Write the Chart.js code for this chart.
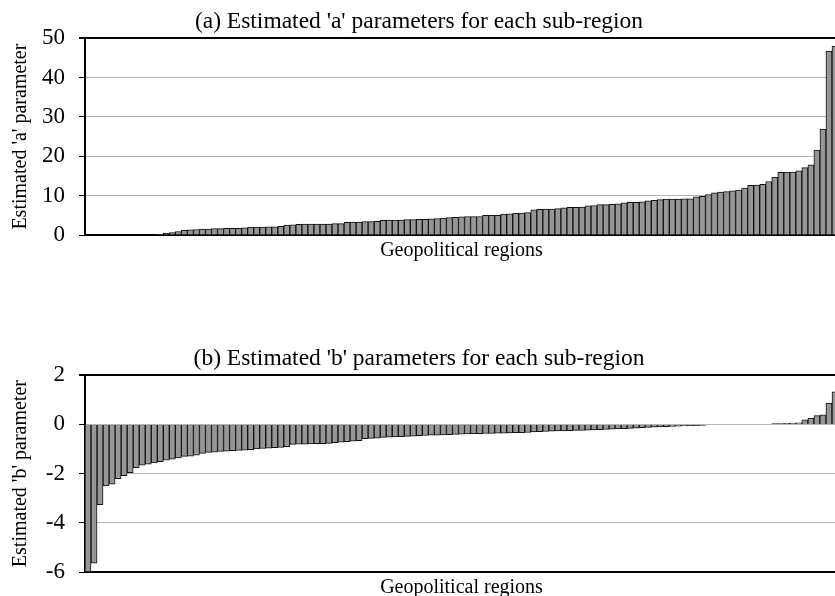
<!DOCTYPE html>
<html>
<head>
<meta charset="utf-8">
<script src="https://cdn.jsdelivr.net/npm/chart.js@4/dist/chart.umd.min.js"></script>
<style>
  html, body { margin: 0; padding: 0; background: #fff; overflow: hidden; width: 835px; height: 596px; }
  .panel { position: absolute; left: 0; width: 840px; height: 267px; }
  #panelA { top: 0; }
  #panelB { top: 337px; }
</style>
</head>
<body>
<div class="panel" id="panelA"><canvas id="chartA" width="840" height="267"></canvas></div>
<div class="panel" id="panelB"><canvas id="chartB" width="840" height="267"></canvas></div>
<script>
// sub-regions, sorted by estimate (125 of them, unlabeled on the axis)
const regionCount = 125;
const regions = Array.from({ length: regionCount }, (_, i) => "R" + (i + 1));

// estimated 'a' values
const aValues = [
  0, 0, 0, 0, 0, 0, 0, 0, 0, 0, 0, 0,
  0.2, 0.4, 0.6, 0.9, 1.2, 1.3, 1.4, 1.5, 1.5, 1.6, 1.6, 1.7, 1.7, 1.7, 1.8,
  2.0, 2.0, 2.0, 2.1, 2.1, 2.2, 2.5, 2.6, 2.7, 2.8, 2.8, 2.8, 2.8, 2.8, 2.9, 2.9,
  3.2, 3.3, 3.3, 3.4, 3.4, 3.5, 3.7, 3.8, 3.8, 3.8, 3.9, 3.9, 4.0, 4.0, 4.1, 4.2, 4.3, 4.4, 4.5,
  4.6, 4.7, 4.7, 4.7, 5.0, 5.0, 5.0, 5.3, 5.4, 5.5, 5.6, 5.7, 6.4, 6.5, 6.6, 6.6, 6.7,
  6.9, 7.0, 7.0, 7.1, 7.4, 7.5, 7.7, 7.7, 7.8, 7.9, 8.2, 8.3, 8.3, 8.4, 8.7, 8.8,
  9.0, 9.1, 9.1, 9.1, 9.2, 9.2, 9.7, 9.8, 10.3, 10.7, 10.9, 11.0, 11.2, 11.4, 11.9,
  12.6, 12.7, 12.9, 13.6, 14.7, 15.9, 16.0, 16.0, 16.3, 17.1, 17.8, 21.6, 26.9, 46.7, 48.0
];

// estimated 'b' values
const bValues = [
  -6.0, -5.64, -3.26, -2.5, -2.43, -2.21, -2.08, -1.96, -1.76, -1.66, -1.62, -1.57, -1.52,
  -1.45, -1.41, -1.36, -1.3, -1.29, -1.25, -1.18, -1.14, -1.13, -1.1, -1.09, -1.07, -1.06,
  -1.05, -1.03, -1.0, -0.98, -0.97, -0.95, -0.94, -0.91, -0.81, -0.8, -0.8, -0.79, -0.78,
  -0.78, -0.77, -0.74, -0.72, -0.7, -0.68, -0.66, -0.58, -0.57, -0.56, -0.53, -0.52, -0.51,
  -0.5, -0.49, -0.48, -0.46, -0.45, -0.44, -0.44, -0.43, -0.42, -0.41, -0.4, -0.39, -0.38,
  -0.38, -0.37, -0.37, -0.36, -0.36, -0.35, -0.34, -0.34, -0.33, -0.31, -0.3, -0.29, -0.28,
  -0.27, -0.26, -0.25, -0.24, -0.24, -0.23, -0.22, -0.21, -0.2, -0.19, -0.18, -0.17, -0.16,
  -0.15, -0.13, -0.12, -0.11, -0.1, -0.09, -0.08, -0.07, -0.06, -0.05, -0.05, -0.04,
  0, 0, 0, 0, 0, 0, 0, 0, 0, 0, 0,
  0.03, 0.03, 0.04, 0.05, 0.06, 0.19, 0.26, 0.36, 0.39, 0.87, 1.32
];

const aTicks = { min: 0, max: 50, step: 10 };
const bTicks = { min: -6, max: 2, step: 2 };

const SERIF = "'Liberation Serif', 'Times New Roman', serif";

function makePanel(canvasId, values, ticks, titleText, yTitle) {
  const ctx = document.getElementById(canvasId);
  return new Chart(ctx, {
    type: "bar",
    data: {
      labels: regions,
      datasets: [{
        data: values,
        backgroundColor: "#969696",
        borderColor: "#111",
        borderWidth: 1,
        barPercentage: 1,
        categoryPercentage: 1,
      }],
    },
    options: {
      responsive: false,
      animation: false,
      devicePixelRatio: 1,
      layout: { padding: { left: 0, right: 2, top: 0, bottom: 0 } },
      plugins: {
        legend: { display: false },
        tooltip: { enabled: false },
        title: {
          display: true,
          text: titleText,
          color: "#000",
          font: { family: SERIF, size: 23.5, weight: "normal" },
          padding: { top: 8, bottom: 2 },
        },
      },
      scales: {
        x: {
          grid: { display: false, drawTicks: false },
          ticks: { display: false },
          border: { color: "#000", width: 2 },
          title: {
            display: true,
            text: "Geopolitical regions",
            color: "#000",
            font: { family: SERIF, size: 20 },
            padding: { top: 4, bottom: 4 },
          },
        },
        y: {
          min: ticks.min,
          max: ticks.max,
          afterFit: s => { s.width = 85; },
          ticks: {
            stepSize: ticks.step,
            color: "#000",
            padding: 14,
            font: { family: SERIF, size: 23 },
          },
          grid: {
            color: c => (c.tick && c.tick.value === ticks.max ? "#000" : "#b4b4b4"),
            lineWidth: c => (c.tick && c.tick.value === ticks.max ? 2 : 1),
            tickColor: "#000",
            tickLength: 6,
          },
          border: { color: "#000", width: 2 },
          title: {
            display: true,
            text: yTitle,
            color: "#000",
            font: { family: SERIF, size: 20 },
            padding: { top: 9, bottom: 0 },
          },
        },
      },
    },
  });
}

makePanel("chartA", aValues, aTicks, "(a) Estimated 'a' parameters for each sub-region", "Estimated 'a' parameter");
makePanel("chartB", bValues, bTicks, "(b) Estimated 'b' parameters for each sub-region", "Estimated 'b' parameter");
</script>
</body>
</html>
